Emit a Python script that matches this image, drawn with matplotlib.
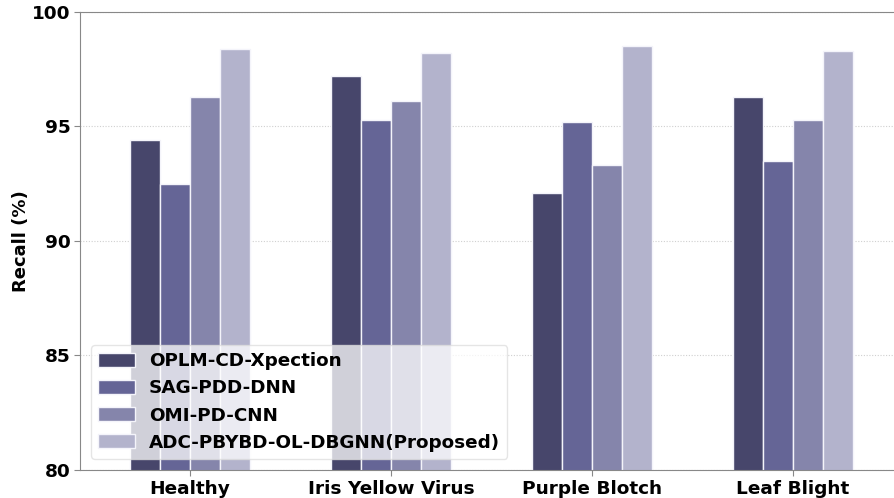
import matplotlib
matplotlib.use("Agg")
import matplotlib.pyplot as plt
import numpy as np

categories = ["Healthy", "Iris Yellow Virus", "Purple Blotch", "Leaf Blight"]
series_names = ["OPLM-CD-Xpection", "SAG-PDD-DNN", "OMI-PD-CNN", "ADC-PBYBD-OL-DBGNN(Proposed)"]
oplm = [94.4, 97.2, 92.1, 96.3]
sag = [92.5, 95.3, 95.2, 93.5]
omi = [96.3, 96.1, 93.3, 95.3]
adc = [98.4, 98.2, 98.5, 98.3]
colors = ["#47466b", "#656596", "#8585ab", "#b3b3cc"]

fig = plt.figure(figsize=(8.95, 4.98), dpi=100)
ax = fig.add_axes([80/895, 28/498, (903-80)/895, (470-12)/498])

x = np.arange(len(categories))
w = 0.15
for i, (vals, name) in enumerate(zip([oplm, sag, omi, adc], series_names)):
    ax.bar(x + (i - 1.5) * w, vals, w, color=colors[i], edgecolor="#f4f4fa",
           linewidth=1, label=name, zorder=2)

ax.set_ylim(80, 100)
ax.set_xlim(-0.547, 3.547)
ax.set_yticks([80, 85, 90, 95, 100])
ax.set_xticks(x)
ax.set_xticklabels(categories, fontsize=13.3, fontweight="bold")
for t in ax.get_yticklabels():
    t.set_fontsize(13.3)
    t.set_fontweight("bold")
ax.set_ylabel("Recall (%)", fontsize=13, fontweight="bold", labelpad=1)
ax.yaxis.grid(True, linestyle=(0, (1, 1.5)), color="#d0d0d0", linewidth=0.8, zorder=0)
ax.set_axisbelow(True)
for s in ["left", "top", "bottom"]:
    ax.spines[s].set_color("#888888")
ax.spines["right"].set_visible(False)
ax.tick_params(axis="both", colors="#888888", labelcolor="black", length=4, pad=3)

leg = ax.legend(loc="lower left", prop={"size": 13.2, "weight": "bold"},
                framealpha=0.75, edgecolor="#dddddd", handlelength=2.0,
                handleheight=0.8, handletextpad=0.75, labelspacing=0.5,
                borderaxespad=0.6)
fig.savefig("out.png", dpi=100)
